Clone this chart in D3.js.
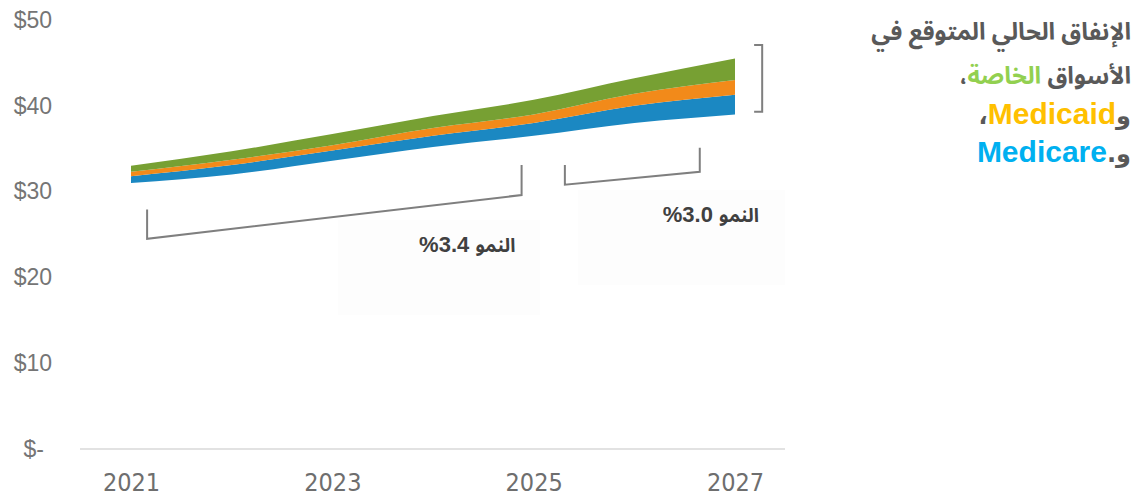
<!DOCTYPE html>
<html>
<head>
<meta charset="utf-8">
<script src="https://cdn.jsdelivr.net/npm/d3@7"></script>
<style>
  body { margin: 0; background: #ffffff; }
  svg { display: block; }
</style>
</head>
<body>
<svg id="chart" width="1138" height="497"></svg>
<script>
// years on the x axis
var years = [2021, 2022, 2023, 2024, 2025, 2026, 2027];
// invisible base under the visible bands ($bn)
var baseVals = [31.0, 32.0, 33.6, 35.2, 36.5, 38.0, 39.0];
// Medicare band (blue)
var medicareVals = [0.8, 1.1, 1.2, 1.3, 1.5, 2.0, 2.3];
// Medicaid band (orange)
var medicaidVals = [0.5, 0.6, 0.6, 0.9, 1.0, 1.4, 1.7];
// private markets band (green)
var privateVals = [0.7, 1.0, 1.3, 1.4, 1.7, 1.8, 2.5];

var yTicks = [0, 10, 20, 30, 40, 50];
var xTicks = [2021, 2023, 2025, 2027];

var growthWord = "النمو";
var growthNums = ["%3.4", "%3.0"];
// f: "ar" = arabic face, "ars" = small arabic marks, "la" = latin
var titleLines = [
    [{t: "الإنفاق الحالي المتوقع في", c: "#595959", f: "ar"}],
    [{t: "الأسواق ", c: "#595959", f: "ar"}, {t: "الخاصة", c: "#92d050", f: "ar"}, {t: "،", c: "#595959", f: "ar"}],
    [{t: "و", c: "#595959", f: "ars"}, {t: "Medicaid", c: "#ffc000", f: "la"}, {t: "،", c: "#595959", f: "ars"}],
    [{t: "و.", c: "#595959", f: "ars"}, {t: "Medicare", c: "#00b0f0", f: "la"}]
];

var arabicFont = "'Noto Sans Arabic', 'Noto Naskh Arabic', 'DejaVu Sans', sans-serif";
var arabicSmallFont = "'DejaVu Sans', sans-serif";
var latinFont = "'Liberation Sans', Arial, sans-serif";
var fonts = {ar: arabicFont, ars: arabicSmallFont, la: latinFont};
var sizes = {ar: 24, ars: 24, la: 30};

var svg = d3.select("#chart");

// scales
var x = d3.scaleLinear().domain([2021, 2027]).range([131, 735]);
var y = d3.scaleLinear().domain([0, 50]).range([449, 20]);

// table for the stack
var table = years.map(function(yr, i) {
    return {year: yr, base: baseVals[i], medicare: medicareVals[i],
            medicaid: medicaidVals[i], priv: privateVals[i]};
});
var keys = ["base", "medicare", "medicaid", "priv"];
var colors = {base: "none", medicare: "#1b88c2", medicaid: "#f28a1a", priv: "#77a033"};

var series = d3.stack().keys(keys)(table);

var area = d3.area()
    .curve(d3.curveMonotoneX)
    .x(function(d) { return x(d.data.year); })
    .y0(function(d) { return y(d[0]); })
    .y1(function(d) { return y(d[1]); });

// faint text boxes behind growth labels
svg.append("rect").attr("x", 338).attr("y", 220).attr("width", 202).attr("height", 95)
    .attr("fill", "#fdfdfd");
svg.append("rect").attr("x", 578).attr("y", 190).attr("width", 207).attr("height", 95)
    .attr("fill", "#fdfdfd");

svg.append("g")
    .selectAll("path")
    .data(series)
    .enter()
    .append("path")
    .attr("d", area)
    .attr("fill", function(d) { return colors[d.key]; });

// x axis
var xAxis = d3.axisBottom(x)
    .tickValues(xTicks)
    .tickFormat(d3.format("d"))
    .tickSize(0)
    .tickPadding(24);
var gx = svg.append("g").attr("transform", "translate(0," + y(0) + ")").call(xAxis);
gx.select(".domain").remove();
gx.append("line")
    .attr("x1", 80).attr("x2", 785).attr("y1", 0).attr("y2", 0)
    .attr("stroke", "#d9d9d9").attr("stroke-width", 1.5);
gx.selectAll("text")
    .attr("fill", "#6e6e6e")
    .attr("font-size", 25)
    .attr("font-family", "'Liberation Sans Narrow', 'DejaVu Sans Condensed', sans-serif");

// y axis
var yAxis = d3.axisLeft(y)
    .tickValues(yTicks)
    .tickFormat(function(d) { return d === 0 ? "$-" : "$" + d; })
    .tickSize(0)
    .tickPadding(0);
var gy = svg.append("g").attr("transform", "translate(52,0)").call(yAxis);
gy.select(".domain").remove();
gy.selectAll("text")
    .attr("fill", "#757575")
    .attr("font-size", 23)
    .attr("font-family", latinFont)
    .attr("dx", function(d) { return d === 0 ? -8 : 0; });

// brackets
var bracketColor = "#7f7f7f";
var line = d3.line().x(function(d) { return x(d[0]); }).y(function(d) { return y(d[1]); });
var brackets = [
    [[2021.16, 27.9], [2021.16, 24.5], [2024.88, 29.6], [2024.88, 33.1]],
    [[2025.31, 33.1], [2025.31, 30.8], [2026.65, 32.3], [2026.65, 35.1]],
    [[2027.19, 47.1], [2027.27, 47.1], [2027.27, 39.3], [2027.19, 39.3]]
];
svg.append("g")
    .selectAll("path")
    .data(brackets)
    .enter()
    .append("path")
    .attr("d", line)
    .attr("fill", "none")
    .attr("stroke", bracketColor)
    .attr("stroke-width", 2);

// growth labels: number on the left, arabic word on the right
var labelPos = [[2024.34, 23.0], [2026.76, 26.5]];
var labels = svg.append("g")
    .selectAll("text")
    .data(growthNums)
    .enter()
    .append("text")
    .attr("x", function(d, i) { return x(labelPos[i][0]); })
    .attr("y", function(d, i) { return y(labelPos[i][1]); })
    .attr("direction", "ltr")
    .attr("text-anchor", "middle")
    .attr("font-weight", "bold")
    .attr("fill", "#404040");
labels.append("tspan")
    .attr("font-family", latinFont)
    .attr("font-size", 22)
    .text(function(d) { return d + "\u00a0"; });
labels.append("tspan")
    .attr("font-family", arabicFont)
    .attr("font-size", 19)
    .text(growthWord);

// title on the right
var titleBase = [40, 84, 124, 162];
var title = svg.append("g");
titleLines.forEach(function(parts, i) {
    var t = title.append("text")
        .attr("x", 1131)
        .attr("y", titleBase[i])
        .attr("direction", "rtl")
        .attr("text-anchor", "start")
        .attr("font-weight", "bold");
    parts.forEach(function(p) {
        t.append("tspan")
            .attr("fill", p.c)
            .attr("font-family", fonts[p.f])
            .attr("font-size", sizes[p.f])
            .text(p.t);
    });
});
</script>
</body>
</html>
